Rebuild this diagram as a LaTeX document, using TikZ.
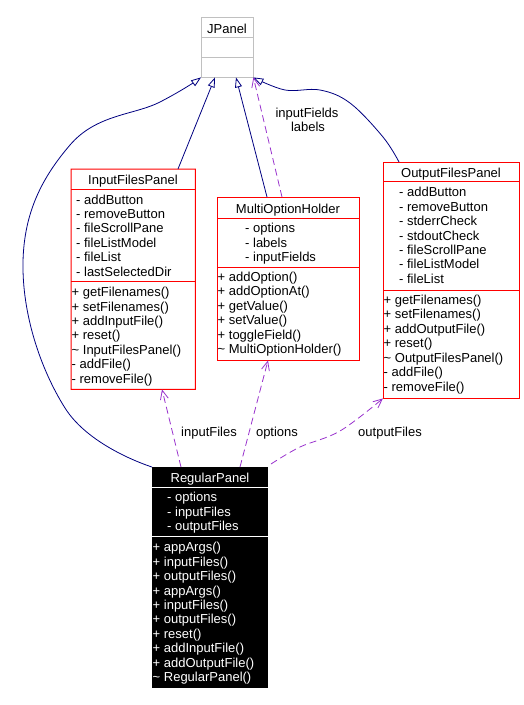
\documentclass[tikz,border=0pt]{standalone}
\usepackage{fontspec}
\setmainfont{Liberation Sans}
\usetikzlibrary{arrows.meta}
\definecolor{navyline}{RGB}{0,0,128}
\definecolor{assoc}{RGB}{153,50,205}
\definecolor{jgray}{RGB}{192,192,192}
\definecolor{boxred}{RGB}{255,0,0}
\newcommand\cllines[5]{%
  \foreach \t [count=\i] in {#5} {\node[txt, text=#4, anchor=base west] (#1\i) at (#2, {#3+(\i-1)*14.45}) {\t};}}
\tikzset{
  cls/.style={rectangle, anchor=north west, inner sep=0pt},
  box/.style={line width=0.9pt},
  txt/.style={font=\fontsize{13}{15}\selectfont, inner sep=0pt, text=black},
  gen/.style={draw=navyline, line width=0.8pt, -{Triangle[open, length=10pt, width=7pt, fill=white]}},
  asc/.style={draw=assoc, line width=0.8pt, dash pattern=on 7pt off 4pt, -{Straight Barb[length=9pt, width=8pt]}},
}
\begin{document}
\begin{tikzpicture}[x=1pt,y=-1pt]
\useasboundingbox (0,0) rectangle (524,705);
% box areas
\node[cls, minimum width=52pt, minimum height=60pt] (jp) at (201,17) {};
\node[cls, minimum width=124pt, minimum height=220pt] (inpanel) at (71,169) {};
\node[cls, minimum width=142pt, minimum height=163pt] (moh) at (217,197) {};
\node[cls, minimum width=136pt, minimum height=236pt] (ofp) at (383,162) {};
\node[cls, minimum width=116pt, minimum height=221pt] (rp) at (152,467) {};
% box outlines (filled frames)
\fill[boxred, even odd rule] ([shift={(-0.5,-0.5)}]inpanel.north west) rectangle ([shift={(0.5,0.5)}]inpanel.south east)
  ([shift={(0.5,0.5)}]inpanel.north west) rectangle ([shift={(-0.5,-0.5)}]inpanel.south east);
\fill[boxred] ([shift={(-0.5,-0.5)}]inpanel.west |- 0,189) rectangle ([shift={(0.5,0.5)}]inpanel.east |- 0,189);
\fill[boxred] ([shift={(-0.5,-0.5)}]inpanel.west |- 0,281) rectangle ([shift={(0.5,0.5)}]inpanel.east |- 0,281);
\draw[box, color=boxred] (moh.north west) rectangle (moh.south east)
  (moh.west |- 0,218) -- (moh.east |- 0,218) (moh.west |- 0,267) -- (moh.east |- 0,267);
\draw[box, color=boxred] (ofp.north west) rectangle (ofp.south east)
  (ofp.west |- 0,181) -- (ofp.east |- 0,181) (ofp.west |- 0,290) -- (ofp.east |- 0,290);
\fill[black] (rp.north west) rectangle (rp.south east);
\draw[box, color=white] (rp.west |- 0,487) -- (rp.east |- 0,487) (rp.west |- 0,536) -- (rp.east |- 0,536);
\draw[box, color=jgray] (jp.north west) rectangle (jp.south east)
  (jp.west |- 0,37) -- (jp.east |- 0,37) (jp.west |- 0,57) -- (jp.east |- 0,57);
% generalizations
\draw[gen] plot[smooth, tension=0.7] coordinates {(rp.north west) (65,408) (23,262) (70,145) (160,102) (jp.south west)};
\draw[gen] ([xshift=107pt]inpanel.north west) -- ([xshift=14pt]jp.south west);
\draw[gen] ([xshift=50pt]moh.north west) -- ([xshift=35pt]jp.south west);
\draw[gen] plot[smooth, tension=0.6] coordinates {([xshift=16pt]ofp.north west) (383,137) (350,103) (320,90) (285,90) (jp.south east)};
% associations
\draw[asc] ([xshift=65pt]moh.north west) -- (jp.south east);
\draw[asc] ([xshift=29pt]rp.north west) -- ([xshift=91pt]inpanel.south west);
\draw[asc] ([xshift=88pt]rp.north west) -- ([xshift=51pt]moh.south west);
\draw[asc] plot[smooth, tension=0.6] coordinates {([xshift=119pt,yshift=3pt]rp.north west) (300,447) (340,431) (ofp.south west)};
% texts
\node[txt, anchor=base] (jpt) at (227,33) {JPanel};
\node[txt, anchor=base] (ifpt) at (133,184) {InputFilesPanel};
\cllines{ifpa}{76}{204}{black}{- addButton, - removeButton, - fileScrollPane, - fileListModel, - fileList, - lastSelectedDir}
\cllines{ifpm}{71.5}{296.6}{black}{+ getFilenames(), + setFilenames(), + addInputFile(), + reset(), \textasciitilde\ InputFilesPanel(), - addFile(), - removeFile()}
\node[txt, anchor=base] (moht) at (288,213.3) {MultiOptionHolder};
\cllines{moha}{245}{232.7}{black}{- options, - labels, - inputFields}
\cllines{mohm}{217.5}{281.5}{black}{+ addOption(), + addOptionAt(), + getValue(), + setValue(), + toggleField(), \textasciitilde\ MultiOptionHolder()}
\node[txt, anchor=base] (ofpt) at (451,177.7) {OutputFilesPanel};
\cllines{ofpa}{399}{196.7}{black}{- addButton, - removeButton, - stderrCheck, - stdoutCheck, - fileScrollPane, - fileListModel, - fileList}
\cllines{ofpm}{383.5}{304.3}{black}{+ getFilenames(), + setFilenames(), + addOutputFile(), + reset(), \textasciitilde\ OutputFilesPanel(), - addFile(), - removeFile()}
\node[txt, text=white, anchor=base] (rpt) at (210,482.3) {RegularPanel};
\cllines{rpa}{167}{501.7}{white}{- options, - inputFiles, - outputFiles}
\cllines{rpm}{152.5}{551.7}{white}{+ appArgs(), + inputFiles(), + outputFiles(), + appArgs(), + inputFiles(), + outputFiles(), + reset(), + addInputFile(), + addOutputFile(), \textasciitilde\ RegularPanel()}
% labels
\node[txt, anchor=base] (l1) at (307,117) {inputFields};
\node[txt, anchor=base] (l2) at (308,131.5) {labels};
\node[txt, anchor=base] (l3) at (209,436) {inputFiles};
\node[txt, anchor=base] (l4) at (277,436) {options};
\node[txt, anchor=base] (l5) at (390,436) {outputFiles};
\end{tikzpicture}
\end{document}
